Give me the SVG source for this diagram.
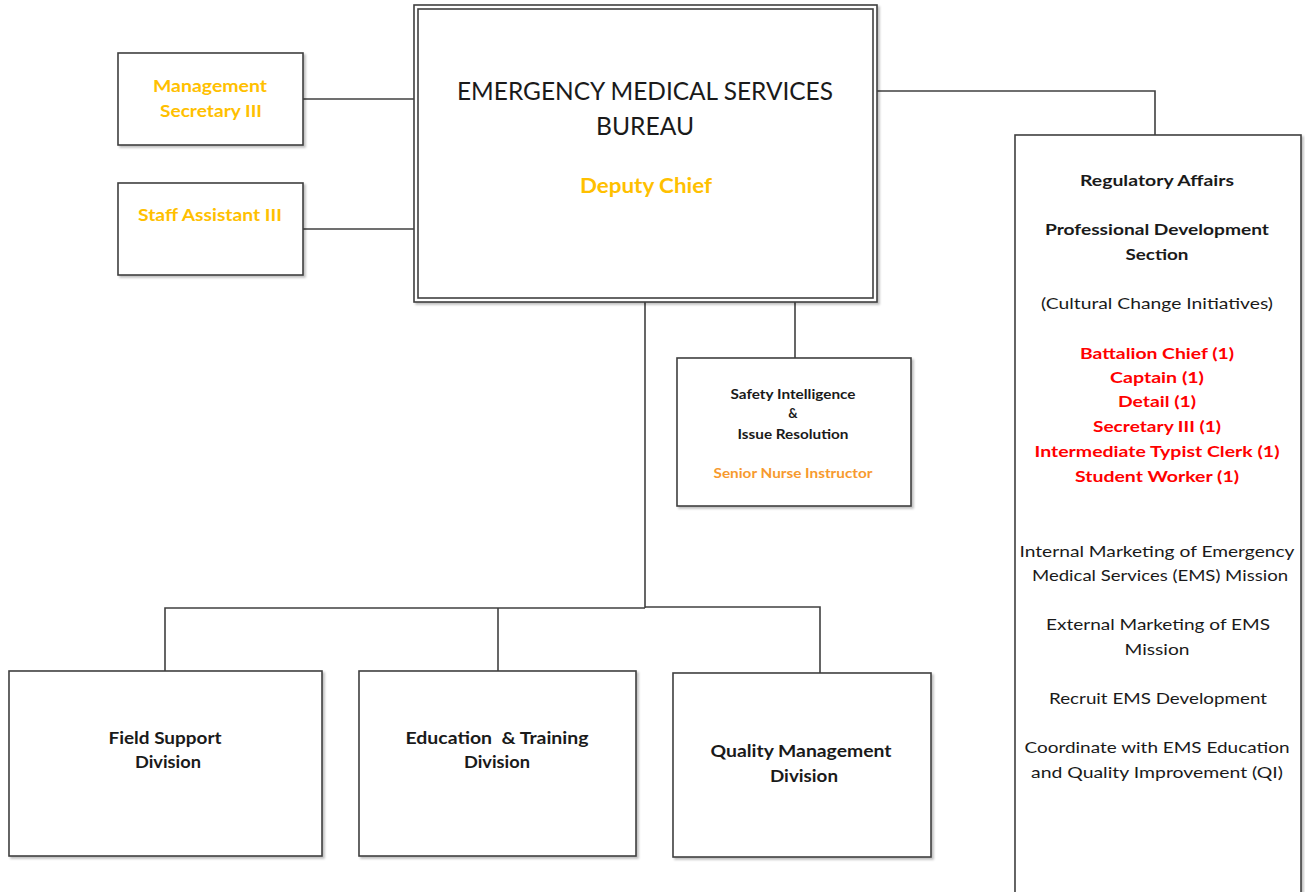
<svg xmlns="http://www.w3.org/2000/svg" width="1305" height="892" viewBox="0 0 1305 892">
<style>
.box{fill:#fff;stroke:#404040;stroke-width:1.6}
.con{fill:none;stroke:#404040;stroke-width:1.6}
text{font-family:Lato,"Open Sans","Liberation Sans",sans-serif;text-anchor:middle}
.b{font-weight:bold}
.k{fill:#1a1a1a}
.y{fill:#FFC000}
.o{fill:#F79A2E}
.r{fill:#FF0000}
.t16{font-size:16px}
.t13{font-size:13px}
.t17{font-size:17px}
</style>
<defs>
<filter id="sh" x="-5%" y="-5%" width="110%" height="110%">
<feDropShadow dx="2" dy="2" stdDeviation="1" flood-color="#000" flood-opacity="0.25"/>
</filter>
</defs>
<g id="connectors">
<polyline class="con" points="303,99 418,99"/>
<polyline class="con" points="303,229 418,229"/>
<polyline class="con" points="877,91 1155,91 1155,135"/>
<polyline class="con" points="795,302 795,358"/>
<polyline class="con" points="645,302 645,608"/>
<polyline class="con" points="165,671 165,608 645,608"/>
<polyline class="con" points="498,608 498,671"/>
<polyline class="con" points="645,607 820,607 820,673"/>
</g>
<g id="main">
<rect class="box" x="414" y="5" width="463" height="297" filter="url(#sh)"/>
<rect class="box" x="418" y="9" width="455" height="289"/>
<text class="k" x="645" y="100" font-size="25" textLength="376" lengthAdjust="spacingAndGlyphs">EMERGENCY MEDICAL SERVICES</text>
<text class="k" x="645" y="135" font-size="25" textLength="98" lengthAdjust="spacingAndGlyphs">BUREAU</text>
<text class="y b" x="646" y="193" font-size="20" textLength="132" lengthAdjust="spacingAndGlyphs">Deputy Chief</text>
</g>
<g id="mgmt-sec">
<rect class="box" x="118" y="53" width="185" height="92" filter="url(#sh)"/>
<text class="y b t17" x="210" y="92" textLength="114" lengthAdjust="spacingAndGlyphs">Management</text>
<text class="y b t17" x="211" y="117" textLength="102" lengthAdjust="spacingAndGlyphs">Secretary III</text>
</g>
<g id="staff-asst">
<rect class="box" x="118" y="183" width="185" height="92" filter="url(#sh)"/>
<text class="y b t17" x="210" y="221" textLength="144" lengthAdjust="spacingAndGlyphs">Staff Assistant III</text>
</g>
<g id="safety">
<rect class="box" x="677" y="358" width="234" height="148" filter="url(#sh)"/>
<text class="k b t13" x="793" y="399" textLength="125" lengthAdjust="spacingAndGlyphs">Safety Intelligence</text>
<text class="k b t13" x="793" y="418">&amp;</text>
<text class="k b t13" x="793" y="439" textLength="111" lengthAdjust="spacingAndGlyphs">Issue Resolution</text>
<text class="o b t13" x="793" y="478" textLength="159" lengthAdjust="spacingAndGlyphs">Senior Nurse Instructor</text>
</g>
<g id="regulatory">
<rect class="box" x="1015" y="135" width="286" height="770" filter="url(#sh)"/>
<text class="k b t16" x="1157" y="186" textLength="154" lengthAdjust="spacingAndGlyphs">Regulatory Affairs</text>
<text class="k b t16" x="1157" y="235" textLength="224" lengthAdjust="spacingAndGlyphs">Professional Development</text>
<text class="k b t16" x="1157" y="260" textLength="63" lengthAdjust="spacingAndGlyphs">Section</text>
<text class="k t16" x="1157" y="309" textLength="232" lengthAdjust="spacingAndGlyphs">(Cultural Change Initiatives)</text>
<text class="r b t16" x="1157" y="359" textLength="154" lengthAdjust="spacingAndGlyphs">Battalion Chief (1)</text>
<text class="r b t16" x="1157" y="383" textLength="94" lengthAdjust="spacingAndGlyphs">Captain (1)</text>
<text class="r b t16" x="1157" y="407" textLength="78" lengthAdjust="spacingAndGlyphs">Detail (1)</text>
<text class="r b t16" x="1157" y="432" textLength="128" lengthAdjust="spacingAndGlyphs">Secretary III (1)</text>
<text class="r b t16" x="1157" y="457" textLength="245" lengthAdjust="spacingAndGlyphs">Intermediate Typist Clerk (1)</text>
<text class="r b t16" x="1157" y="482" textLength="164" lengthAdjust="spacingAndGlyphs">Student Worker (1)</text>
<text class="k t16" x="1157" y="557" textLength="275" lengthAdjust="spacingAndGlyphs">Internal Marketing of Emergency</text>
<text class="k t16" x="1160" y="581" textLength="256" lengthAdjust="spacingAndGlyphs">Medical Services (EMS) Mission</text>
<text class="k t16" x="1158" y="630" textLength="224" lengthAdjust="spacingAndGlyphs">External Marketing of EMS</text>
<text class="k t16" x="1157" y="655" textLength="65" lengthAdjust="spacingAndGlyphs">Mission</text>
<text class="k t16" x="1158" y="704" textLength="218" lengthAdjust="spacingAndGlyphs">Recruit EMS Development</text>
<text class="k t16" x="1157" y="753" textLength="265" lengthAdjust="spacingAndGlyphs">Coordinate with EMS Education</text>
<text class="k t16" x="1157" y="778" textLength="252" lengthAdjust="spacingAndGlyphs">and Quality Improvement (QI)</text>
</g>
<g id="field-support">
<rect class="box" x="9" y="671" width="313" height="185" filter="url(#sh)"/>
<text class="k b t17" x="165" y="744" textLength="113" lengthAdjust="spacingAndGlyphs">Field Support</text>
<text class="k b t17" x="168" y="768" textLength="66" lengthAdjust="spacingAndGlyphs">Division</text>
</g>
<g id="education">
<rect class="box" x="359" y="671" width="277" height="185" filter="url(#sh)"/>
<text class="k b t17" x="497" y="744" textLength="183" lengthAdjust="spacingAndGlyphs">Education&#160; &amp; Training</text>
<text class="k b t17" x="497" y="768" textLength="66" lengthAdjust="spacingAndGlyphs">Division</text>
</g>
<g id="quality">
<rect class="box" x="673" y="673" width="258" height="184" filter="url(#sh)"/>
<text class="k b t17" x="801" y="757" textLength="181" lengthAdjust="spacingAndGlyphs">Quality Management</text>
<text class="k b t17" x="804" y="782" textLength="68" lengthAdjust="spacingAndGlyphs">Division</text>
</g>
</svg>
